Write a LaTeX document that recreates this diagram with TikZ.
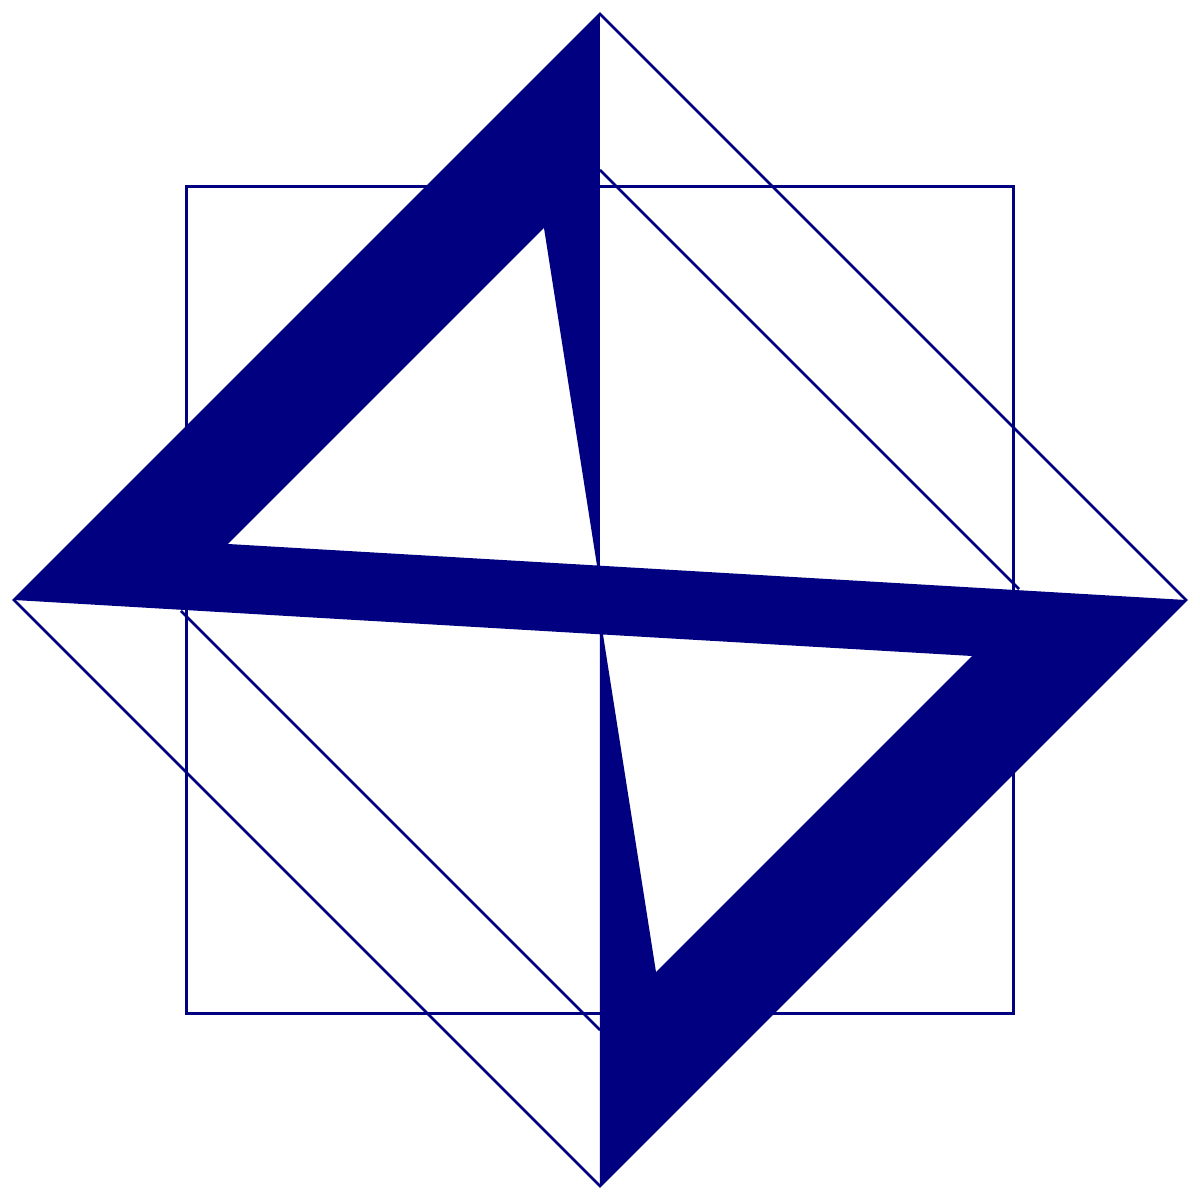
\documentclass[tikz,border=0pt]{standalone}
\usepackage{tikz}
\definecolor{navy}{RGB}{0,0,128}

\begin{document}
\begin{tikzpicture}[x = 1pt, y = 1pt, outline/.style = {draw = navy, line width = 2.5pt}, band/.style = {fill = navy, even odd rule}]

	\useasboundingbox (-600,-600) rectangle (600,600);

	\coordinate (L)   at (-586,   0);
	\coordinate (T)   at (   0, 586);
	\coordinate (R)   at ( 586,   0);
	\coordinate (B)   at (   0,-586);
	\coordinate (SQ1) at (-413.5,-413.5);
	\coordinate (SQ2) at ( 413.5, 413.5);
	\coordinate (TM)  at (   0,  34.3);
	\coordinate (BM)  at (   0, -34.3);
	\coordinate (HA1) at (-372,  56);
	\coordinate (HA2) at ( -56, 372);
	\coordinate (HA3) at (  -3,  34.5);
	\coordinate (HB1) at ( 372, -56);
	\coordinate (HB2) at (  56,-372);
	\coordinate (HB3) at (   3, -34.5);
	\coordinate (IA1) at (   0, 430);
	\coordinate (IA2) at ( 419,  11);
	\coordinate (IB1) at (   0,-430);
	\coordinate (IB2) at (-419, -11);

	\draw[outline] (L) -- (T) -- (R) -- (B) -- cycle;
	\draw[outline] (SQ1) rectangle (SQ2);
	\foreach \from/\to in {IA1/IA2, IB1/IB2}
		\draw[outline] (\from) -- (\to);

	\path[band] (L) -- (T) -- (TM) -- (R) -- (B) -- (BM) -- cycle
		(HA1) -- (HA2) -- (HA3) -- cycle
		(HB1) -- (HB2) -- (HB3) -- cycle;

\end{tikzpicture}
\end{document}
